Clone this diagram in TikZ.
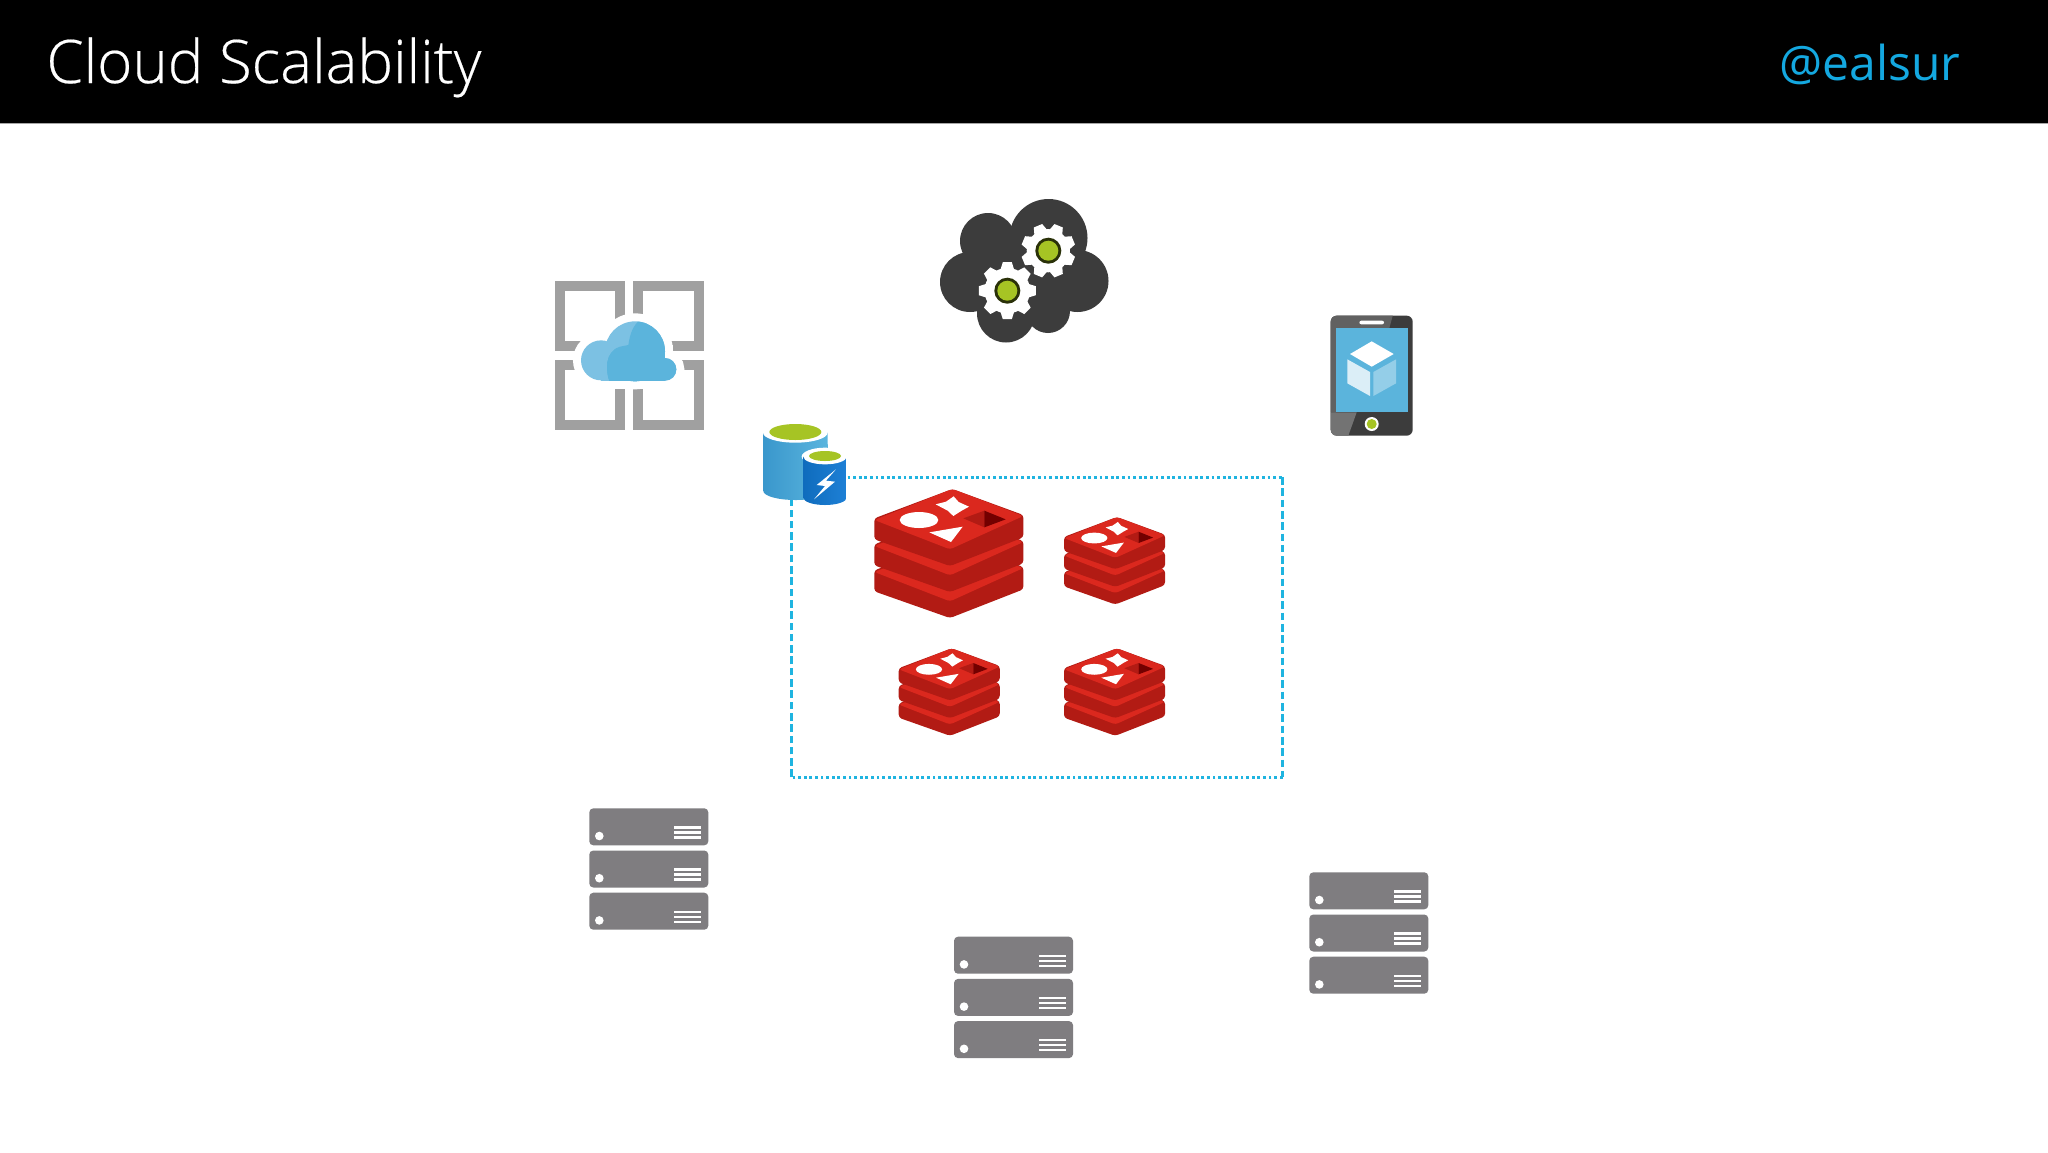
\documentclass[tikz,border=0pt]{standalone}
\usepackage{fontspec}
\setmainfont{Open Sans Light}[FakeBold=0.35]
\newfontfamily\handlefont{Open Sans}
\definecolor{accent}{HTML}{14A8E0}
\definecolor{boxline}{HTML}{1FB4E0}
\definecolor{framegray}{HTML}{A0A0A0}
\definecolor{cloudlight}{HTML}{7CC1E3}
\definecolor{clouddark}{HTML}{5BB4DC}
\definecolor{charcoal}{HTML}{3C3C3C}
\definecolor{limegreen}{HTML}{A6C424}
\definecolor{servergray}{HTML}{7F7D80}
\definecolor{redface}{HTML}{DB281E}
\definecolor{redside}{HTML}{B21B14}
\definecolor{dbblueA}{HTML}{0F6CBD}
\definecolor{dbblueB}{HTML}{1E80D6}
\definecolor{dbcylA}{HTML}{3A97CC}
\definecolor{dbcylB}{HTML}{5AB5DE}
\tikzset{
  zoomed/.style n args={3}{shift={(#1,#2)},x=#3*0.166667pt,y=-#3*0.166667pt},
  framequad/.style={draw=framegray,line width=5pt,miter limit=10},
  serverbar/.style={fill=servergray,rounded corners=2pt},
  serverline/.style={white,line width=1.2pt},
  dotline/.style={draw=boxline,line width=1.5pt,dash pattern=on 1.4pt off 1.4pt},
  dashline/.style={draw=boxline,line width=1.5pt,dash pattern=on 3.8pt off 1.85pt},
}
\newcommand\cloudparts[1]{%
  \path[#1] (315,514) circle (90);
  \path[#1] (213,541) circle (60);
  \path[#1] (405,568) circle (34);
  \path[#1] (213,520) rectangle (405,602);
}
\newcommand\redislayer[1]{%
  \begin{scope}[shift={(0,#1)}]
    \fill[redside,rounded corners=1.5pt] (28,115) -- (28,178) -- (255,258) -- (475,172) -- (475,105) -- (262,27) -- cycle;
    \fill[redface,rounded corners=1.5pt] (262,27) -- (475,108) -- (255,208) -- (28,120) -- cycle;
  \end{scope}
}
\newcommand\redisicon[3]{%
  \begin{scope}[zoomed={#1}{#2}{#3}]
    \redislayer{156}
    \redislayer{78}
    \redislayer{0}
    \fill[white] (212,73) -- (243,65) -- (266,49) -- (281,66) -- (312,80) -- (290,92) -- (265,108) -- (248,92) -- cycle;
    \fill[white] (162,120) ellipse [x radius=58,y radius=24];
    \fill[white] (193,157) -- (293,140) -- (258,186) -- cycle;
    \fill[redside] (295,115) -- (358,92) -- (358,142) -- cycle;
    \fill[red!45!black] (358,92) -- (422,118) -- (358,142) -- cycle;
  \end{scope}
}
\newcommand\serverstack[2]{%
  \begin{scope}[shift={(#1,#2)}]
    \foreach \k in {0,1,2} {
      \begin{scope}[shift={(0,42.2*\k)}]
        \fill[serverbar] (0,0) rectangle (119,37);
        \fill[white] (10,27.7) circle (4.3);
        \foreach \m in {19,24,29} \draw[serverline] (85,\m) -- (112,\m);
      \end{scope}
    }
  \end{scope}
}
\newcommand\gearicon[4]{%
  \begin{scope}[shift={(#1,#2)}]
    \fill[white] (0,0) circle (#3*0.8);
    \foreach \a in {0,45,...,315} {
      \fill[white,rotate=\a+#4] (-7,0.72*#3) -- (-4.5,#3) -- (4.5,#3) -- (7,0.72*#3) -- cycle;
    }
    \fill[black!75!limegreen] (0,0) circle (13);
    \fill[limegreen] (0,0) circle (10);
  \end{scope}
}
\begin{document}
\begin{tikzpicture}[x=0.5pt,y=-0.5pt]
\useasboundingbox (0,0) rectangle (2048,1152);
\fill[white] (0,0) rectangle (2048,1152);
% header
\fill[black] (0,0) rectangle (2048,123);
\fill[black!35] (0,123) rectangle (2048,124);
\node[anchor=base west,inner sep=0pt,text=white,font=\fontsize{30}{36}\selectfont] (title) at (46,83) {Cloud Scalability};
\node[anchor=base west,inner sep=0pt,text=accent,font=\handlefont\fontsize{24}{29}\selectfont] (handle) at (1779,80) {@ealsur};
% dashed box
\coordinate (bnw) at (791.5,477);
\coordinate (bne) at (1282.5,477);
\coordinate (bse) at (1282.5,777);
\coordinate (bsw) at (791.5,777);
\draw[dotline] (bnw) -- (bne);
\draw[dashline] (bne) -- (bse);
\draw[dotline] (bse) -- (bsw);
\draw[dashline] (bsw) -- (bnw);
% app service icon
\draw[framequad] (560,286) rectangle (620,346);
\draw[framequad] (638,286) rectangle (699,346);
\draw[framequad] (560,365) rectangle (620,425);
\draw[framequad] (638,365) rectangle (699,425);
\begin{scope}[zoomed={530}{180}{1}]
  \cloudparts{fill=white,draw=white,line width=8pt}
  \cloudparts{fill=cloudlight}
  \begin{scope}
    \clip (240,610) .. controls (225,570) and (225,515) .. (270,500) -- (295,495) .. controls (300,460) and (310,435) .. (330,420) -- (345,395) -- (470,395) -- (470,610) -- cycle;
    \cloudparts{fill=clouddark}
  \end{scope}
\end{scope}
% gear cloud
\fill[charcoal] (1048.5,238) circle (39);
\fill[charcoal] (988,241) circle (28);
\fill[charcoal] (970,282) circle (30);
\fill[charcoal] (1006,313.5) circle (29);
\fill[charcoal] (1048,311) circle (22);
\fill[charcoal] (1077.5,281) circle (31);
\fill[charcoal] (985,245) rectangle (1075,310);
\gearicon{1048.3}{250.7}{27}{22.5}
\gearicon{1007.3}{290.7}{28.5}{0}
% tablet
\begin{scope}[zoomed={920}{180}{1}]
  \fill[charcoal,rounded corners=3pt] (1232,407) rectangle (1478,767);
  \begin{scope}
    \clip[rounded corners=3pt] (1232,407) rectangle (1478,767);
    \fill[black!62] (1225,400) -- (1420,400) -- (1408,444) -- (1248,444) -- (1248,697) -- (1225,697) -- cycle;
    \fill[black!55] (1225,697) -- (1310,697) -- (1282,775) -- (1225,775) -- cycle;
  \end{scope}
  \fill[clouddark] (1248,444) rectangle (1464,697);
  \fill[white,rounded corners=1pt] (1318,422) rectangle (1392,433);
  \fill[white] (1355,732) circle (21);
  \fill[limegreen] (1355,732) circle (15);
  \fill[white] (1355,484) -- (1421,522) -- (1355,560) -- (1290,522) -- cycle;
  \fill[white!78!clouddark] (1282,538) -- (1350,576) -- (1350,648) -- (1282,610) -- cycle;
  \fill[white!35!clouddark] (1360,576) -- (1428,538) -- (1428,610) -- (1360,648) -- cycle;
\end{scope}
% database
\begin{scope}[zoomed={750}{410}{1}]
  \shade[left color=dbcylA,right color=dbcylB] (40,68) -- (40,243) arc[start angle=180,end angle=0,x radius=97,y radius=27] -- (233,68) -- cycle;
  \fill[white] (136,68) ellipse [x radius=97,y radius=30];
  \fill[limegreen] (136,66) ellipse [x radius=78,y radius=24];
  \fill[white] (225,140) ellipse [x radius=70,y radius=27];
  \shade[left color=dbblueA,right color=dbblueB] (160,140) -- (160,263) arc[start angle=180,end angle=0,x radius=65,y radius=22] -- (290,140) -- cycle;
  \fill[white] (225,140) ellipse [x radius=65,y radius=23];
  \fill[limegreen] (225,138) ellipse [x radius=48,y radius=15];
  \fill[white] (258,178) -- (200,225) -- (225,228) -- (192,268) -- (255,215) -- (228,212) -- cycle;
\end{scope}
% redis
\redisicon{865}{480}{1}
\redisicon{1057.7}{510.9}{0.678}
\redisicon{892.4}{642.2}{0.678}
\redisicon{1057.7}{642.2}{0.678}
% servers
\serverstack{589.3}{808.3}
\serverstack{954}{936.7}
\serverstack{1309.3}{872.3}
\end{tikzpicture}
\end{document}
